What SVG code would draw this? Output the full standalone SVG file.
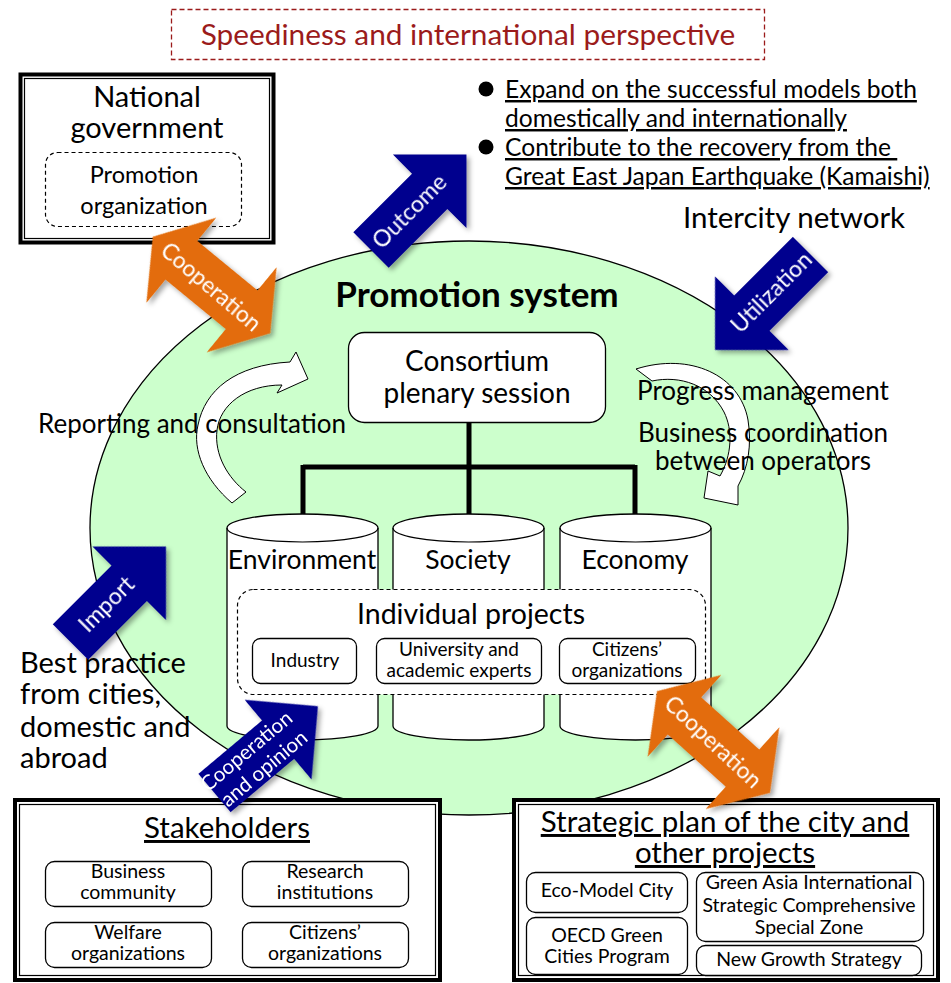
<svg xmlns="http://www.w3.org/2000/svg" width="951" height="983" viewBox="0 0 951 983">
<style>
text{font-family:Lato,"Liberation Sans",sans-serif;fill:#000}
.c{text-anchor:middle}
.w{fill:#fff}
.box{fill:#fff;stroke:#000;stroke-width:1.3}
.thick{fill:#fff;stroke:#000;stroke-width:4}
.thin{fill:none;stroke:#000;stroke-width:1.2}
.dash{fill:#fff;stroke:#000;stroke-width:1.2;stroke-dasharray:4 3}
.navy{fill:#00008E}
.orange{fill:#E36C0A}
.tree{fill:none;stroke:#000;stroke-width:5}
.u{text-decoration:underline}
</style>
<defs>
<filter id="sh" x="-20%" y="-20%" width="140%" height="140%">
<feDropShadow dx="3" dy="3" stdDeviation="2.5" flood-color="#000" flood-opacity="0.35"/>
</filter>
<path id="single" d="M0,-25 L83,-25 L83,-52 L135,0 L83,52 L83,25 L0,25 Z"/>
<path id="double" d="M-76,0 L-39,-55 L-39,-25 L39,-25 L39,-55 L76,0 L39,55 L39,25 L-39,25 L-39,55 Z"/>
</defs>
<rect width="951" height="983" fill="#fff"/>

<g id="title">
<rect x="171.5" y="9.5" width="593" height="50" fill="#fff" stroke="#9B1B1B" stroke-width="1.3" stroke-dasharray="5 3"/>
<text x="468" y="45" class="c" style="font-size:29.8px;fill:#9B1B1B">Speediness and international perspective</text>
</g>

<g id="promotion-system">
<ellipse cx="469" cy="528" rx="379" ry="287" fill="#CCFFCC" stroke="#000" stroke-width="1.3"/>
<text x="477" y="307" class="c" style="font-size:35px;font-weight:bold">Promotion system</text>
</g>

<g id="national-government">
<rect x="20.5" y="74.5" width="253" height="168" class="thick"/>
<rect x="24.5" y="78.5" width="245" height="160" class="thin"/>
<text x="147" y="107" class="c" style="font-size:29px">National</text>
<text x="147" y="138" class="c" style="font-size:29px">government</text>
<rect x="45.5" y="152.5" width="196" height="74" rx="12" class="dash"/>
<text x="144" y="183" class="c" style="font-size:23.5px">Promotion</text>
<text x="144" y="214" class="c" style="font-size:23.5px">organization</text>
</g>

<g id="outcomes">
<circle cx="486" cy="89" r="7.5"/>
<circle cx="486" cy="147" r="7.5"/>
<text x="505" y="98" class="u" style="font-size:24.6px">Expand on the successful models both</text>
<text x="505" y="127" class="u" style="font-size:24.6px">domestically and internationally</text>
<text x="505" y="156" class="u" style="font-size:24.6px;white-space:pre">Contribute to the recovery from the </text>
<text x="505" y="185" class="u" style="font-size:24.6px">Great East Japan Earthquake (Kamaishi)</text>
</g>

<g id="intercity-network">
<text x="794" y="228" class="c" style="font-size:29.5px">Intercity network</text>
</g>

<g id="loops">
<path d="M232,503 C205,480 192,450 198,425 C205,390 235,365 290,362 L296,352 L308,379 L277,393 L282,385 C245,385 220,405 217,430 C214,455 228,478 246,492 Z" fill="#fff" stroke="#000" stroke-width="1"/>
<path d="M636,369 C690,352 740,375 748,420 C752,445 748,468 738,486 L738,505 L704,498 L708,471 L720,476 C732,455 733,430 724,412 C710,385 680,375 652,381 Z" fill="#fff" stroke="#000" stroke-width="1"/>
</g>

<g id="reporting">
<text x="192" y="433" class="c" style="font-size:26px">Reporting and consultation</text>
</g>
<g id="management">
<text x="763" y="400" class="c" style="font-size:26px">Progress management</text>
<text x="763" y="442" class="c" style="font-size:26px">Business coordination</text>
<text x="763" y="470" class="c" style="font-size:26px">between operators</text>
</g>

<g id="consortium">
<rect x="348.5" y="332.5" width="257" height="90" rx="16" class="box"/>
<text x="477" y="371" class="c" style="font-size:28px">Consortium</text>
<text x="477" y="403" class="c" style="font-size:28px">plenary session</text>
</g>

<g id="connectors">
<path class="tree" d="M469,422 V467 M303,467 H635 M303,465 V515 M469,467 V515 M635,465 V515"/>
</g>

<g id="environment">
<path d="M227,528 A75.5,14 0 0 1 378,528 L378,726 A75.5,14 0 0 1 227,726 Z" class="box"/>
<path d="M227,528 A75.5,14 0 0 0 378,528" class="thin"/>
<text x="302" y="569" class="c" style="font-size:26.5px">Environment</text>
</g>
<g id="society">
<path d="M393,528 A75.5,14 0 0 1 544,528 L544,726 A75.5,14 0 0 1 393,726 Z" class="box"/>
<path d="M393,528 A75.5,14 0 0 0 544,528" class="thin"/>
<text x="468" y="569" class="c" style="font-size:26.5px">Society</text>
</g>
<g id="economy">
<path d="M560,528 A75.5,14 0 0 1 711,528 L711,726 A75.5,14 0 0 1 560,726 Z" class="box"/>
<path d="M560,528 A75.5,14 0 0 0 711,528" class="thin"/>
<text x="635" y="569" class="c" style="font-size:26.5px">Economy</text>
</g>

<g id="individual-projects">
<rect x="237.5" y="589.5" width="468" height="105" rx="16" class="dash"/>
<text x="471" y="624" class="c" style="font-size:28.5px">Individual projects</text>
<g id="industry">
<rect x="252.5" y="638.5" width="104" height="45" rx="8" class="box"/>
<text x="305" y="667" class="c" style="font-size:19px">Industry</text>
</g>
<g id="university">
<rect x="376.5" y="638.5" width="165" height="45" rx="8" class="box"/>
<text x="459" y="656" class="c" style="font-size:19px">University and</text>
<text x="459" y="677" class="c" style="font-size:19px">academic experts</text>
</g>
<g id="citizens">
<rect x="559.5" y="638.5" width="136" height="45" rx="8" class="box"/>
<text x="627" y="656" class="c" style="font-size:19px">Citizens’</text>
<text x="627" y="677" class="c" style="font-size:19px">organizations</text>
</g>
</g>

<g id="best-practice">
<text x="20" y="673" style="font-size:29px">Best practice</text>
<text x="20" y="704" style="font-size:29px">from cities,</text>
<text x="20" y="737" style="font-size:29px">domestic and</text>
<text x="20" y="768" style="font-size:29px">abroad</text>
</g>

<g id="stakeholders">
<rect x="15" y="800" width="425" height="180" class="thick"/>
<rect x="19.5" y="804.5" width="416" height="171" class="thin"/>
<text x="227" y="838" class="c u" style="font-size:29.5px">Stakeholders</text>
<rect x="45.5" y="861.5" width="166" height="45" rx="9" class="box"/>
<text x="128" y="878" class="c" style="font-size:19.5px">Business</text>
<text x="128" y="899" class="c" style="font-size:19.5px">community</text>
<rect x="242.5" y="861.5" width="166" height="45" rx="9" class="box"/>
<text x="325" y="878" class="c" style="font-size:19.5px">Research</text>
<text x="325" y="899" class="c" style="font-size:19.5px">institutions</text>
<rect x="45.5" y="922.5" width="166" height="45" rx="9" class="box"/>
<text x="128" y="939" class="c" style="font-size:19.5px">Welfare</text>
<text x="128" y="960" class="c" style="font-size:19.5px">organizations</text>
<rect x="242.5" y="922.5" width="166" height="45" rx="9" class="box"/>
<text x="325" y="939" class="c" style="font-size:19.5px">Citizens’</text>
<text x="325" y="960" class="c" style="font-size:19.5px">organizations</text>
</g>

<g id="strategic-plan">
<rect x="514" y="800" width="424" height="180" class="thick"/>
<rect x="518.5" y="804.5" width="415" height="171" class="thin"/>
<text x="725" y="832" class="c u" style="font-size:29.5px">Strategic plan of the city and</text>
<text x="725" y="863" class="c u" style="font-size:29.5px">other projects</text>
<rect x="526.5" y="872.5" width="161" height="40" rx="9" class="box"/>
<text x="607" y="897" class="c" style="font-size:19.5px">Eco-Model City</text>
<rect x="526.5" y="917.5" width="161" height="57" rx="9" class="box"/>
<text x="607" y="942" class="c" style="font-size:19.5px">OECD Green</text>
<text x="607" y="963" class="c" style="font-size:19.5px">Cities Program</text>
<rect x="696.5" y="872.5" width="227" height="69" rx="9" class="box"/>
<text x="809" y="889" class="c" style="font-size:19.5px">Green Asia International</text>
<text x="809" y="912" class="c" style="font-size:19.5px">Strategic Comprehensive</text>
<text x="809" y="934" class="c" style="font-size:19.5px">Special Zone</text>
<rect x="696.5" y="945.5" width="225" height="30" rx="9" class="box"/>
<text x="809" y="966" class="c" style="font-size:19.5px">New Growth Strategy</text>
</g>

<g id="block-arrows" filter="url(#sh)">
<use href="#single" class="navy" transform="translate(371,250) rotate(-45)"/>
<use href="#single" class="navy" transform="translate(810.5,254.5) rotate(135)"/>
<use href="#single" class="navy" transform="translate(70.5,642) rotate(-45)"/>
<use href="#single" class="navy" transform="translate(214.5,793) rotate(-40)"/>
<use href="#double" class="orange" transform="translate(211.5,285) rotate(39.4)"/>
<use href="#double" class="orange" transform="translate(713.5,742) rotate(42)"/>
</g>
<g id="arrow-labels">
<text class="c w" transform="translate(410,212) rotate(-45)" dy="7" style="font-size:23px">Outcome</text>
<text class="c w" transform="translate(772,293) rotate(-45)" dy="7" style="font-size:23px">Utilization</text>
<text class="c w" transform="translate(107,605) rotate(-45)" dy="7" style="font-size:23px">Import</text>
<text class="c w" transform="translate(246.5,751) rotate(-40)" dy="7" style="font-size:20.5px">Cooperation</text>
<text class="c w" transform="translate(264,768.5) rotate(-40)" dy="7" style="font-size:20.5px">and opinion</text>
<text class="c w" transform="translate(210.5,287.5) rotate(40.4)" dy="7" style="font-size:22.5px">Cooperation</text>
<text class="c w" transform="translate(712.5,742.5) rotate(43)" dy="7" style="font-size:22.5px">Cooperation</text>
</g>
</svg>
